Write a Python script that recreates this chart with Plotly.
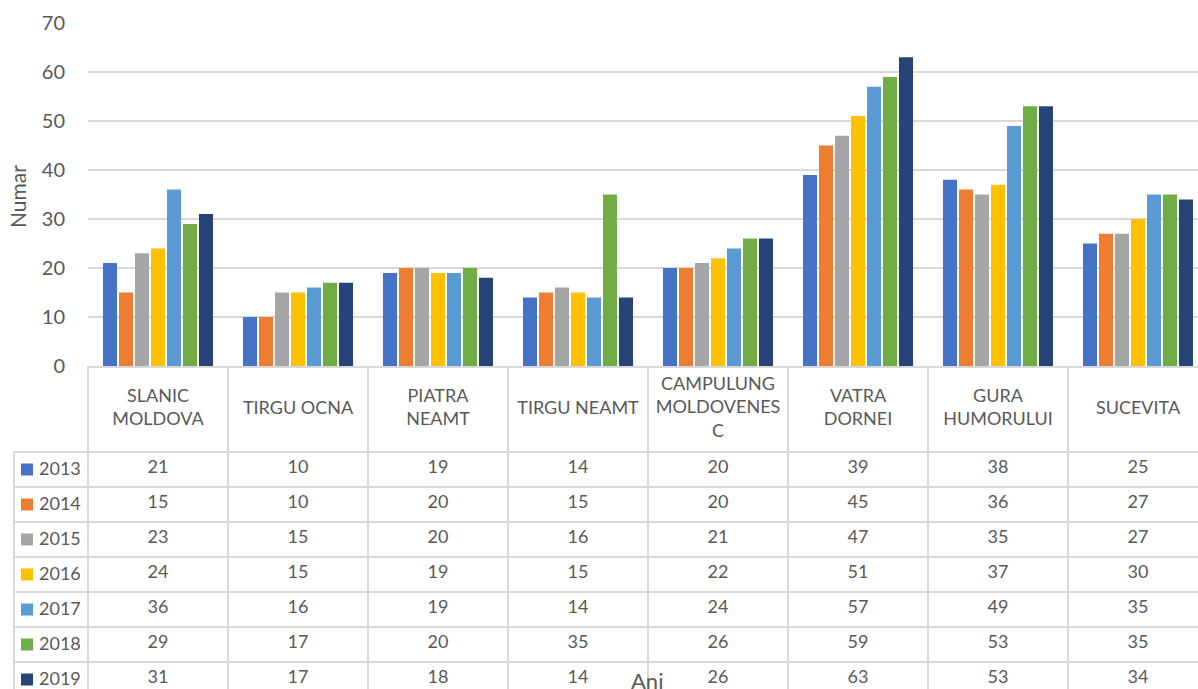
import plotly.graph_objects as go

W, H = 1198, 689

# categories and yearly series
locations = ["SLANIC MOLDOVA", "TIRGU OCNA", "PIATRA NEAMT", "TIRGU NEAMT",
             "CAMPULUNG MOLDOVENESC", "VATRA DORNEI", "GURA HUMORULUI", "SUCEVITA"]
header_labels = ["SLANIC<br>MOLDOVA", "TIRGU OCNA", "PIATRA<br>NEAMT", "TIRGU NEAMT",
                 "CAMPULUNG<br>MOLDOVENES<br>C", "VATRA<br>DORNEI", "GURA<br>HUMORULUI", "SUCEVITA"]
years = ["2013", "2014", "2015", "2016", "2017", "2018", "2019"]
v2013 = [21, 10, 19, 14, 20, 39, 38, 25]
v2014 = [15, 10, 20, 15, 20, 45, 36, 27]
v2015 = [23, 15, 20, 16, 21, 47, 35, 27]
v2016 = [24, 15, 19, 15, 22, 51, 37, 30]
v2017 = [36, 16, 19, 14, 24, 57, 49, 35]
v2018 = [29, 17, 20, 35, 26, 59, 53, 35]
v2019 = [31, 17, 18, 14, 26, 63, 53, 34]
series = [v2013, v2014, v2015, v2016, v2017, v2018, v2019]
colors = ["#4472C4", "#ED7D31", "#A5A5A5", "#FFC000", "#5B9BD5", "#70AD47", "#264478"]

FONT = "Lato"
TXT = "#595959"
GRID = "#d9d9d9"

# pixel layout helpers
plot_left, plot_top, plot_bottom = 88, 23, 366
header_h, row_h = 86, 35
xs = list(range(len(locations)))

fig = go.Figure()

for yr, vals, c in zip(years, series, colors):
    fig.add_trace(go.Bar(x=xs, y=vals, name=yr, marker_color=c,
                         marker_line_width=0, xaxis="x", yaxis="y"))

# table header (category names)
fig.add_trace(go.Scatter(
    x=xs, y=[header_h / 2] * len(xs), text=header_labels, mode="text",
    textfont=dict(family=FONT, size=18, color=TXT), xaxis="x", yaxis="y2",
    hoverinfo="skip", cliponaxis=False))

# table body values
for i, vals in enumerate(series):
    yc = header_h + row_h * i + row_h / 2 - 1.5
    fig.add_trace(go.Scatter(
        x=xs, y=[yc] * len(xs), text=[str(v) for v in vals], mode="text",
        textfont=dict(family=FONT, size=18, color=TXT), xaxis="x", yaxis="y2",
        hoverinfo="skip", cliponaxis=False))

shapes = []
annotations = []
line = dict(color=GRID, width=2)

# vertical separators between categories
for i in range(len(xs)):
    shapes.append(dict(type="line", xref="x", yref="y2", x0=i + 0.5, x1=i + 0.5,
                       y0=0, y1=400, line=line, layer="above"))
# left border of the data area
shapes.append(dict(type="line", xref="paper", yref="y2", x0=plot_left / W, x1=plot_left / W,
                   y0=0, y1=400, line=line))
# left border of legend column
shapes.append(dict(type="line", xref="paper", yref="y2", x0=14 / W, x1=14 / W,
                   y0=header_h, y1=400, line=line))
# horizontal row lines
for i in range(len(years)):
    y = header_h + row_h * i
    shapes.append(dict(type="line", xref="paper", yref="y2", x0=14 / W, x1=1,
                       y0=y, y1=y, line=line))
# legend keys + year labels
for i, (yr, c) in enumerate(zip(years, colors)):
    yc = header_h + row_h * i + row_h / 2
    shapes.append(dict(type="rect", xref="paper", yref="y2", x0=21 / W, x1=33 / W,
                       y0=yc - 6, y1=yc + 6, fillcolor=c, line=dict(width=0)))
    annotations.append(dict(text=yr, xref="paper", yref="y2", x=37 / W, y=yc - 1.5,
                            xanchor="left", yanchor="middle", showarrow=False,
                            font=dict(family=FONT, size=18, color=TXT)))

annotations.append(dict(text="Numar", xref="paper", yref="paper", x=18 / W, y=1 - 197 / H,
                        textangle=-90, showarrow=False, xanchor="center", yanchor="middle",
                        font=dict(family=FONT, size=21, color=TXT)))
annotations.append(dict(text="Ani", xref="paper", yref="paper", x=647 / W, y=1 - 680 / H,
                        showarrow=False, xanchor="center", yanchor="middle",
                        font=dict(family=FONT, size=22, color=TXT)))

fig.update_layout(
    width=W, height=H,
    margin=dict(l=0, r=0, t=0, b=0, pad=0),
    plot_bgcolor="white", paper_bgcolor="white",
    showlegend=False,
    barmode="group", bargap=0.2, bargroupgap=0.125,
    xaxis=dict(domain=[plot_left / W, 1], range=[-0.5, 7.5 - 10 / 140],
               showticklabels=False, showgrid=False, zeroline=False, automargin=False,
               showline=True, linecolor=GRID, linewidth=2, anchor="y"),
    yaxis=dict(domain=[1 - plot_bottom / H, 1 - plot_top / H], range=[0, 70],
               dtick=10, showgrid=True, gridcolor=GRID, gridwidth=1.5, automargin=False,
               zeroline=False, showline=False, ticklabelstandoff=22,
               tickfont=dict(family=FONT, size=20, color=TXT)),
    yaxis2=dict(domain=[0, 1 - plot_bottom / H], range=[H - plot_bottom, 0],
                visible=False, showgrid=False, zeroline=False, automargin=False),
    shapes=shapes,
    annotations=annotations,
)

fig.write_html("out.html", config={"displayModeBar": False},
               post_script="document.body.style.margin='0';")
